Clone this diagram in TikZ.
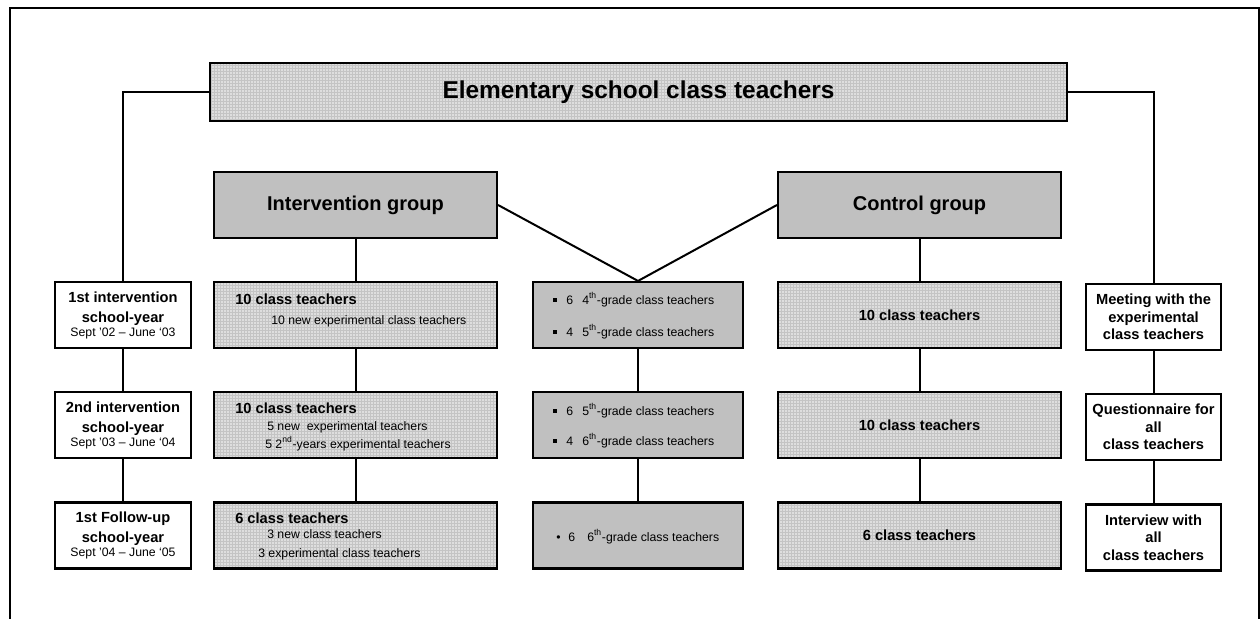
\documentclass[tikz,border=0pt]{standalone}
\usepackage{fontspec}
\setmainfont{Liberation Sans}

\definecolor{silver}{HTML}{C0C0C0}
\definecolor{meshbg}{HTML}{DEDEDE}
\definecolor{meshline}{HTML}{C4C4C4}

% bullet item of the grade boxes
\newcommand{\sqitem}[2]{\makebox[9.75pt][l]{\rule[1.6pt]{2.6pt}{2.6pt}}\makebox[12pt][l]{#1}#2}

\begin{document}
\begin{tikzpicture}[x=0.75pt, y=-0.75pt,
		box/.style={draw, line width=1.6pt, inner sep=0pt, minimum height=49.5pt},
		meshbox/.style={box, fill=meshbg, path picture={
				\draw[meshline, line width=0.3pt, step=2.25pt] (path picture bounding box.south west) grid (path picture bounding box.north east);}},
		greybox/.style={box, fill=silver},
		yearbox/.style={box, fill=white, align=center, font=\bfseries\fontsize{11}{15}\selectfont},
		headtext/.style={inner sep=0pt, font=\bfseries\fontsize{11}{13}\selectfont},
		subtext/.style={inner sep=0pt, font=\fontsize{9.2}{11}\selectfont},
		link/.style={line width=1.5pt}]
		\useasboundingbox (0,0) rectangle (1260,618);
		
		% Frame
		\draw[line width=1.6pt] (10,630) -- (10,8) -- (1259,8) -- (1259,630);
		
		% Top and groups
		\node[meshbox, minimum width=642.75pt, minimum height=43.5pt, font=\bfseries\fontsize{18.3}{22}\selectfont] (top) at (638.5,92) {Elementary school class teachers};
		\node[greybox, minimum width=212.25pt, font=\bfseries\fontsize{15}{18}\selectfont] (ig) at (355.5,205) {Intervention group};
		\node[greybox, minimum width=212.25pt, font=\bfseries\fontsize{15}{18}\selectfont] (cg) at (919.5,205) {Control group};
		
		% School years
		\node[yearbox, minimum width=102pt] (l1) at (123,315) {1st intervention\\school-year\\[-4.5pt]{\mdseries\fontsize{9.2}{11}\selectfont Sept ’02 – June ‘03}};
		\node[yearbox, minimum width=102pt] (l2) at (123,425) {2nd intervention\\school-year\\[-4.5pt]{\mdseries\fontsize{9.2}{11}\selectfont Sept ’03 – June ‘04}};
		\node[yearbox, minimum width=102pt] (l3) at (123,535.5) {1st Follow-up\\school-year\\[-4.5pt]{\mdseries\fontsize{9.2}{11}\selectfont Sept ’04 – June ‘05}};
		
		% Intervention group
		\node[meshbox, minimum width=212.25pt] (i1) at (355.5,315) {};
		\node[headtext, anchor=base west] (i1a) at (235,304) {10 class teachers};
		\node[subtext, anchor=base west] (i1b) at (271,324) {10 new experimental class teachers};
		\node[meshbox, minimum width=212.25pt] (i2) at (355.5,425) {};
		\node[headtext, anchor=base west] (i2a) at (235,413) {10 class teachers};
		\node[subtext, anchor=base west] (i2b) at (267,430) {5 new~ experimental teachers};
		\node[subtext, anchor=base west] (i2c) at (265,448) {5 2\textsuperscript{nd}-years experimental teachers};
		\node[meshbox, minimum width=212.25pt] (i3) at (355.5,535.5) {};
		\node[headtext, anchor=base west] (i3a) at (235,523) {6 class teachers};
		\node[subtext, anchor=base west] (i3b) at (267,538) {3 new class teachers};
		\node[subtext, anchor=base west] (i3c) at (258,557) {3 experimental class teachers};
		
		% Grades
		\node[greybox, minimum width=157.5pt] (m1) at (638,315) {};
		\node[subtext, anchor=base west] (m1a) at (553,304) {\sqitem{6}{4}\textsuperscript{th}-grade class teachers};
		\node[subtext, anchor=base west] (m1b) at (553,336) {\sqitem{4}{5}\textsuperscript{th}-grade class teachers};
		\node[greybox, minimum width=157.5pt] (m2) at (638,425) {};
		\node[subtext, anchor=base west] (m2a) at (553,415) {\sqitem{6}{5}\textsuperscript{th}-grade class teachers};
		\node[subtext, anchor=base west] (m2b) at (553,445) {\sqitem{4}{6}\textsuperscript{th}-grade class teachers};
		\node[greybox, minimum width=157.5pt] (m3) at (638,535.5) {};
		\node[subtext, anchor=base west] (m3a) at (556,541) {\makebox[9pt][l]{•}\makebox[14.25pt][l]{6}6\textsuperscript{th}-grade class teachers};
		
		% Control group
		\node[meshbox, minimum width=212.25pt, font=\bfseries\fontsize{11}{13}\selectfont] (c1) at (919.5,315) {10 class teachers};
		\node[meshbox, minimum width=212.25pt, font=\bfseries\fontsize{11}{13}\selectfont] (c2) at (919.5,425) {10 class teachers};
		\node[meshbox, minimum width=212.25pt, font=\bfseries\fontsize{11}{13}\selectfont] (c3) at (919.5,535.5) {6 class teachers};
		
		% Data collection
		\node[yearbox, minimum width=101.25pt, font=\bfseries\fontsize{11}{13.1}\selectfont] (r1) at (1153.5,317) {Meeting with the\\experimental\\class teachers};
		\node[yearbox, minimum width=101.25pt, font=\bfseries\fontsize{11}{13.1}\selectfont] (r2) at (1153.5,427) {Questionnaire for\\all\\class teachers};
		\node[yearbox, minimum width=101.25pt, font=\bfseries\fontsize{11}{13.1}\selectfont] (r3) at (1153.5,537.5) {Interview with\\all\\class teachers};
		
		% Connectors
		\draw[link] (top.west) -| (l1.north);
		\draw[link] (top.east) -| (r1.north);
		\draw[link] (ig.south) -- (ig.south |- i1.north);
		\draw[link] (cg.south) -- (cg.south |- c1.north);
		\draw[link] (ig.east) -- (m1.north) -- (cg.west);
		\foreach \grp in {l,i,m,c,r} {
			\draw[link] (\grp1.south) -- (\grp2.north) (\grp2.south) -- (\grp3.north);
		}
		
	\end{tikzpicture}
\end{document}
